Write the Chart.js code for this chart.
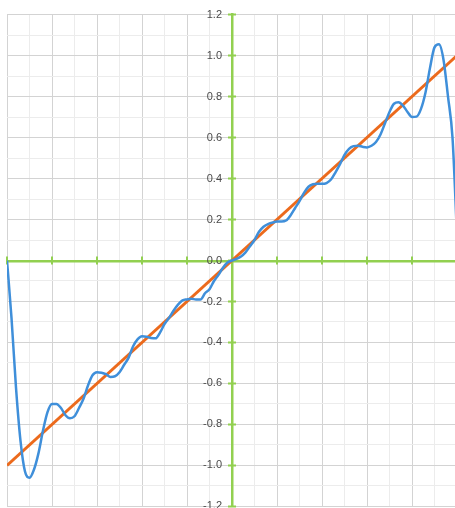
<!DOCTYPE html>
<html>
<head>
<meta charset="utf-8">
<script src="https://cdn.jsdelivr.net/npm/chart.js@4/dist/chart.umd.min.js"></script>
<style>
    html, body { margin: 0; padding: 0; background: #fff; overflow: hidden; }
    #myChart { display: block; width: 462px; height: 525px; margin-top: -2px; }
</style>
</head>
<body>
<canvas id="myChart" width="462" height="525"></canvas>
<script>

// x positions: sample index, -50 .. 50 (10 samples per major gridline)
var steps = [];
for (var i = -50; i <= 50; i++) steps.push(i);

// blue curve at each sample
var wave = [
    0, -0.28, -0.62, -0.88, -1.03, -1.06, -1.02, -0.94, -0.83, -0.74,
    -0.70, -0.70, -0.72, -0.755, -0.77, -0.76, -0.72, -0.675, -0.61, -0.56,
    -0.545, -0.548, -0.555, -0.568, -0.565, -0.545, -0.51, -0.475, -0.42, -0.385,
    -0.37, -0.372, -0.378, -0.38, -0.352, -0.31, -0.28, -0.245, -0.215, -0.195,
    -0.19, -0.187, -0.19, -0.19, -0.16, -0.14, -0.10, -0.07, -0.035, -0.01,
    0,
    0.008, 0.02, 0.04, 0.07, 0.10, 0.14, 0.165, 0.178, 0.185, 0.19,
    0.19, 0.195, 0.22, 0.255, 0.29, 0.33, 0.36, 0.372, 0.375, 0.374,
    0.378, 0.395, 0.43, 0.47, 0.515, 0.545, 0.558, 0.56, 0.555, 0.552,
    0.56, 0.578, 0.615, 0.67, 0.725, 0.765, 0.772, 0.756, 0.725, 0.70,
    0.702, 0.74, 0.82, 0.94, 1.04, 1.055, 0.98, 0.80, 0.60, 0.12
];

// orange straight line, end points
var lineX = [-50, 50];
var lineY = [-1, 1];

var axisGreen = '#92D050';
var majorGrid = '#d3d3d3';
var minorGrid = '#ececec';

function pts(xs, ys) {
    return xs.map(function (x, k) { return { x: x, y: ys[k] }; });
}

var crossTicks = {
    id: 'crossTicks',
    beforeDatasetsDraw: function (chart) {
        var ctx = chart.ctx;
        var sx = chart.scales.x, sy = chart.scales.y;
        var cx = sx.getPixelForValue(0), cy = sy.getPixelForValue(0);
        ctx.save();
        ctx.strokeStyle = axisGreen;
        ctx.lineWidth = 2;
        ctx.beginPath();
        sy.ticks.forEach(function (t) {
            if (Math.round(t.value * 10) % 2 !== 0) return;
            var y = sy.getPixelForValue(t.value);
            ctx.moveTo(cx - 4, y);
            ctx.lineTo(cx + 4, y);
        });
        sx.ticks.forEach(function (t) {
            if (Math.round(t.value) % 10 !== 0) return;
            var x = sx.getPixelForValue(t.value);
            ctx.moveTo(x, cy - 4);
            ctx.lineTo(x, cy + 4);
        });
        ctx.stroke();
        ctx.restore();
    }
};

var ctx = document.getElementById('myChart').getContext('2d');
var myChart = new Chart(ctx, {
    type: 'line',
    data: {
        datasets: [{
            data: pts(steps, wave),
            borderColor: '#3F8FDA',
            borderWidth: 2.5,
            pointRadius: 0,
            cubicInterpolationMode: 'monotone'
        }, {
            data: pts(lineX, lineY),
            borderColor: '#EC6A1C',
            borderWidth: 3,
            pointRadius: 0
        }]
    },
    options: {
        responsive: false,
        animation: false,
        layout: {
            padding: { left: 7, right: 5, top: 10, bottom: 10 }
        },
        plugins: {
            legend: { display: false },
            tooltip: { enabled: false }
        },
        scales: {
            x: {
                type: 'linear',
                position: 'center',
                min: -50,
                max: 50,
                ticks: { display: false, stepSize: 5 },
                grid: {
                    drawTicks: false,
                    color: function (c) {
                        var v = c.tick ? c.tick.value : 1;
                        if (v === 0) return 'rgba(0,0,0,0)';
                        return Math.round(v) % 10 === 0 ? majorGrid : minorGrid;
                    }
                },
                border: { color: axisGreen, width: 2.5 }
            },
            y: {
                type: 'linear',
                position: 'center',
                min: -1.2,
                max: 1.2,
                ticks: {
                    stepSize: 0.1,
                    autoSkip: false,
                    padding: 10,
                    color: '#4a4a4a',
                    font: { family: 'Liberation Sans', size: 11 },
                    callback: function (v) {
                        if (Math.round(v * 10) % 2 !== 0) return '';
                        return (Math.round(v * 10) / 10).toFixed(1);
                    }
                },
                grid: {
                    drawTicks: false,
                    color: function (c) {
                        var v = c.tick ? c.tick.value : 1;
                        if (Math.abs(v) < 1e-9) return 'rgba(0,0,0,0)';
                        return Math.round(v * 10) % 2 === 0 ? majorGrid : minorGrid;
                    }
                },
                border: { color: axisGreen, width: 2.5 }
            }
        }
    },
    plugins: [crossTicks]
});
</script>
</body>
</html>
